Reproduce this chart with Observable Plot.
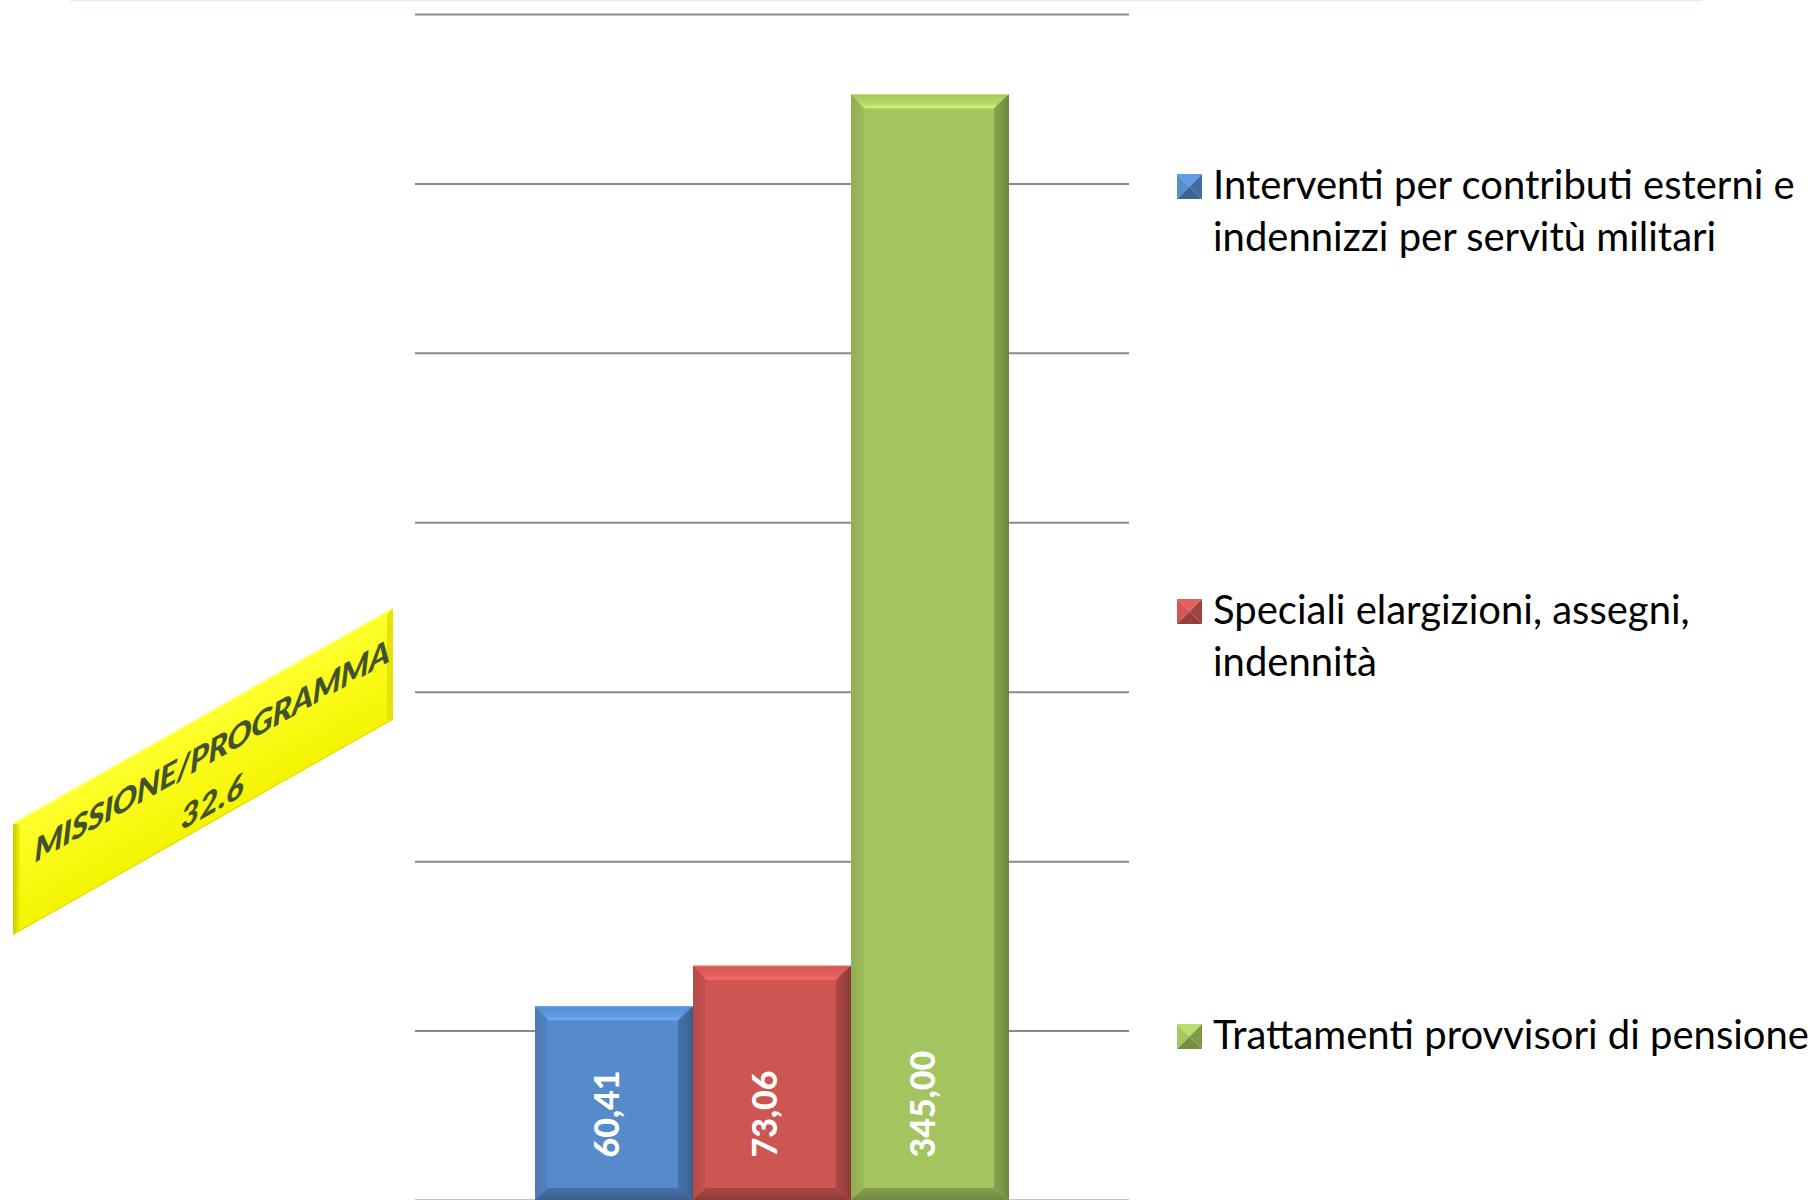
<!DOCTYPE html>
<html><head><meta charset="utf-8">
<script src="https://cdn.jsdelivr.net/npm/d3@7"></script>
<script src="https://cdn.jsdelivr.net/npm/@observablehq/plot@0.6"></script>
<style>
html,body{margin:0;padding:0;background:#fff;}
#wrap{position:relative;width:1818px;height:1200px;overflow:hidden;background:#fff;}
#wrap svg{display:block;}
</style></head><body><div id="wrap"></div>
<script>
// ---- data ----
const categories = [
  "Interventi per contributi esterni e indennizzi per servitù militari",
  "Speciali elargizioni, assegni, indennità",
  "Trattamenti provvisori di pensione"
];
const legendLines = [
  ["Interventi per contributi esterni e", "indennizzi per servitù militari"],
  ["Speciali elargizioni, assegni,", "indennità"],
  ["Trattamenti provvisori di pensione"]
];
const values = [60.41, 73.06, 345.00];
const colors = ["#558ACB", "#CD5552", "#A3C45E"];
const gridTicks = [0, 52.86, 105.71, 158.57, 211.43, 264.29, 317.14, 370];
const yMax = 370;
const badgeLines = ["MISSIONE/PROGRAMMA", "32.6"];

const fmt = v => d3.format(".2f")(v).replace(".", ",");
const data = categories.map((c, i) => ({category: c, value: values[i], color: colors[i], label: fmt(values[i])}));

const W = 1818, H = 1200;
const plot = Plot.plot({
  width: W, height: H,
  marginLeft: 415, marginRight: 689, marginTop: 14, marginBottom: 0,
  x: {domain: categories, paddingInner: 0, paddingOuter: 0.75, axis: null},
  y: {domain: [0, yMax], axis: null},
  color: {type: "identity"},
  marks: [
    Plot.ruleY(gridTicks, {stroke: "#8a8a8a", strokeWidth: 2}),
    Plot.barY(data, {x: "category", y: "value", fill: "color"}),
    Plot.text(data, {x: "category", y: 0, text: "label", rotate: -90, textAnchor: "start",
      dy: -43, dx: -6, fill: "white", fontSize: 34, fontWeight: 900, fontFamily: "Lato"})
  ]
});
plot.style.fontFamily = "Lato";
document.getElementById("wrap").appendChild(plot);

const svg = d3.select(plot);
const defs = svg.insert("defs", ":first-child");

function grad(id, c0, c1, c2, horizontal) {
  const g = defs.append("linearGradient").attr("id", id)
    .attr("x1", 0).attr("y1", 0).attr("x2", horizontal ? 1 : 0).attr("y2", horizontal ? 0 : 1);
  g.append("stop").attr("offset", "0%").attr("stop-color", c0);
  g.append("stop").attr("offset", "70%").attr("stop-color", c1);
  g.append("stop").attr("offset", "100%").attr("stop-color", c2);
}

// ---- bevel on each bar, from the rendered rects ----
svg.selectAll('g[aria-label="bar"] rect').each(function(d, i) {
  const r = d3.select(this);
  const x = +r.attr("x"), y = +r.attr("y"), w = +r.attr("width"), h = +r.attr("height");
  const base = d3.rgb(r.attr("fill"));
  const B = (k) => base.brighter(k).formatHex();
  const D = (k) => base.darker(k).formatHex();
  grad(`bt${i}`, B(0.05), B(0.3), B(0.7), false);
  grad(`bl${i}`, D(0.35), D(0.18), D(0.1), true);
  grad(`br${i}`, D(0.5), D(0.85), D(1.15), true);
  grad(`bb${i}`, D(0.55), D(0.85), D(1.05), false);
  const bT = 14, bL = 13, bR = 15, bB = 12;
  const parent = d3.select(this.parentNode);
  const poly = (pts, fill) => parent.append("polygon").attr("points", pts.map(p => p.join(",")).join(" ")).attr("fill", fill);
  poly([[x, y], [x + w, y], [x + w - bR, y + bT], [x + bL, y + bT]], `url(#bt${i})`);
  poly([[x, y], [x + bL, y + bT], [x + bL, y + h - bB], [x, y + h]], `url(#bl${i})`);
  poly([[x + w, y], [x + w, y + h], [x + w - bR, y + h - bB], [x + w - bR, y + bT]], `url(#br${i})`);
  poly([[x, y + h], [x + bL, y + h - bB], [x + w - bR, y + h - bB], [x + w, y + h]], `url(#bb${i})`);
  parent.append("line").attr("x1", x).attr("x2", x + w).attr("y1", y + 0.5).attr("y2", y + 0.5)
    .attr("stroke", B(0.9)).attr("stroke-opacity", 0.5);
});

// faint top border line
svg.append("line").attr("x1", 70).attr("x2", 1702).attr("y1", 0.5).attr("y2", 0.5)
  .attr("stroke", "#f6e4e4").attr("stroke-width", 1);

// ---- legend ----
const legendBaselines = [[199, 251], [624, 676], [1049]];
const lg = svg.append("g").attr("font-family", "Lato").attr("fill", "#000").attr("text-anchor", "start");
const legFont = 40;
const legTexts = [];
legendLines.forEach((lines, i) => {
  const base = d3.rgb(colors[i]);
  const s = 25, x0 = 1177, y0 = legendBaselines[i][0] - s;
  const cx = x0 + s / 2, cy = y0 + s / 2;
  const g = lg.append("g");
  const tri = (pts, f) => g.append("polygon").attr("points", pts.map(p => p.join(",")).join(" ")).attr("fill", f);
  tri([[x0, y0], [x0 + s, y0], [cx, cy]], base.brighter(0.35).formatHex());
  tri([[x0, y0], [cx, cy], [x0, y0 + s]], base.brighter(0.05).formatHex());
  tri([[x0 + s, y0], [x0 + s, y0 + s], [cx, cy]], base.darker(0.7).formatHex());
  tri([[x0, y0 + s], [cx, cy], [x0 + s, y0 + s]], base.darker(0.9).formatHex());
  lines.forEach((t, j) => {
    legTexts.push(lg.append("text").attr("x", 1213).attr("y", legendBaselines[i][j])
      .attr("text-anchor", "start").attr("font-size", legFont).text(t));
  });
});
// fit legend font so the longest line spans the reference width
const refNode = legTexts[legTexts.length - 1].node();
const measured = refNode.getComputedTextLength();
if (measured > 0) {
  const f = legFont * 596 / measured;
  legTexts.forEach(t => t.attr("font-size", f.toFixed(2)));
}

// ---- yellow badge ----
const ang = -Math.atan(215 / 379) * 180 / Math.PI;
const yg = defs.append("linearGradient").attr("id", "ybadge").attr("x1", 0).attr("y1", 0).attr("x2", 0).attr("y2", 1);
yg.append("stop").attr("offset", "0%").attr("stop-color", "#ffff2e");
yg.append("stop").attr("offset", "100%").attr("stop-color", "#f4f400");
const badge = svg.append("g").attr("transform", `translate(13,823) skewY(${ang})`);
const bw = 380, bh = 112;
badge.append("rect").attr("width", bw).attr("height", bh).attr("fill", "url(#ybadge)");
const yl = defs.append("linearGradient").attr("id", "yleft").attr("x1", 0).attr("y1", 0).attr("x2", 1).attr("y2", 0);
yl.append("stop").attr("offset", "0%").attr("stop-color", "#c9c900");
yl.append("stop").attr("offset", "100%").attr("stop-color", "#f2f200");
badge.append("polygon").attr("points", `0,0 7,6 7,${bh - 3} 0,${bh}`).attr("fill", "url(#yleft)");
badge.append("polygon").attr("points", `${bw},0 ${bw - 6},5 ${bw - 6},${bh - 3} ${bw},${bh}`).attr("fill", "#e4e400");
badge.append("line").attr("x1", 0).attr("x2", bw).attr("y1", bh - 0.5).attr("y2", bh - 0.5).attr("stroke", "#d8d800");
badge.append("line").attr("x1", 0).attr("x2", bw).attr("y1", 0.8).attr("y2", 0.8).attr("stroke", "#ffff8a").attr("stroke-width", 1.5);
const bt1 = badge.append("text").attr("x", 199).attr("y", 52).attr("text-anchor", "middle")
  .attr("font-family", "Lato").attr("font-style", "italic").attr("font-weight", 900)
  .attr("letter-spacing", -0.5)
  .attr("font-size", 32).attr("fill", "#42532a").text(badgeLines[0]);
const m1 = bt1.node().getComputedTextLength();
let bf = 32;
if (m1 > 0) { bf = 32 * 355 / m1; bt1.attr("font-size", bf.toFixed(2)); }
badge.append("text").attr("x", 199).attr("y", 103).attr("text-anchor", "middle")
  .attr("font-family", "Lato").attr("font-style", "italic").attr("font-weight", 900)
  .attr("font-size", bf.toFixed(2)).attr("fill", "#42532a").text(badgeLines[1]);
</script>
</body></html>
